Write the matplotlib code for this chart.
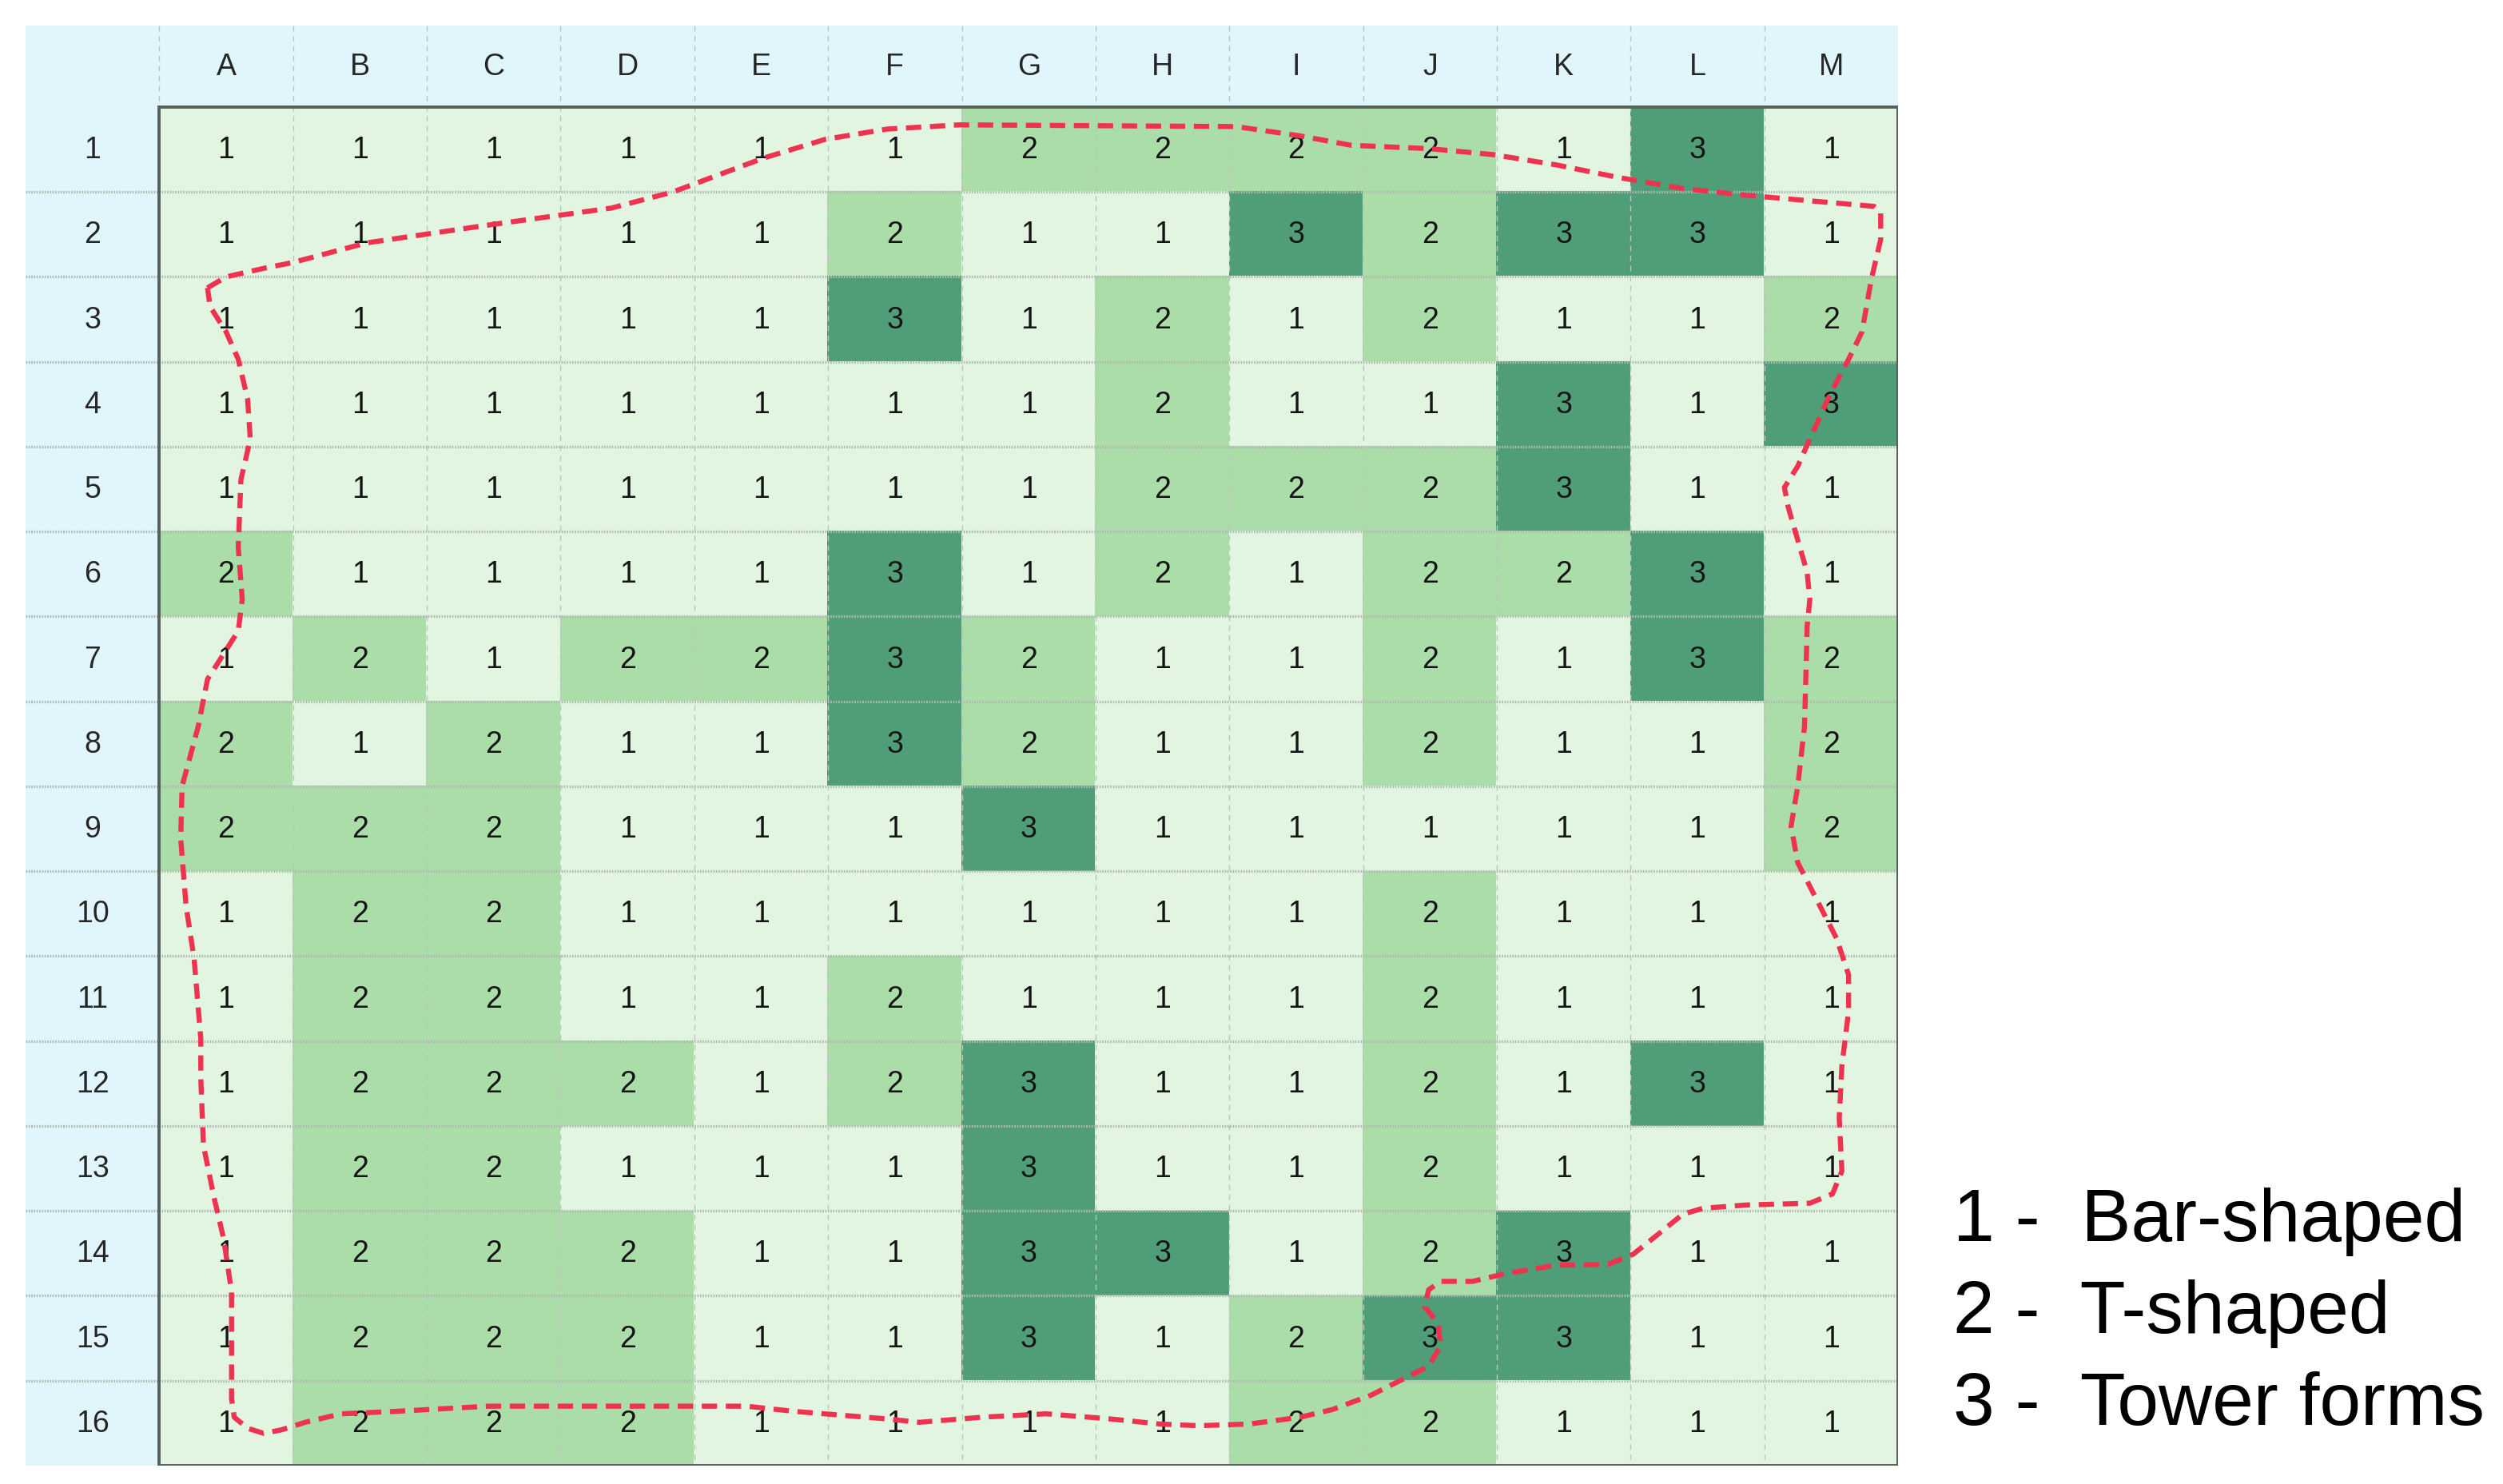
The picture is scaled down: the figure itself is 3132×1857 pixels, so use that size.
import numpy as np
import matplotlib.pyplot as plt
from matplotlib.colors import ListedColormap, BoundaryNorm
from matplotlib.patches import Rectangle

plt.rcParams['font.family'] = ['Liberation Sans Narrow', 'Liberation Sans', 'DejaVu Sans']

col_labels = list('ABCDEFGHIJKLM')
row_labels = [str(i) for i in range(1, 17)]

# form type per cell, rows 1..16, columns A..M
forms = [
    [1, 1, 1, 1, 1, 1, 2, 2, 2, 2, 1, 3, 1],
    [1, 1, 1, 1, 1, 2, 1, 1, 3, 2, 3, 3, 1],
    [1, 1, 1, 1, 1, 3, 1, 2, 1, 2, 1, 1, 2],
    [1, 1, 1, 1, 1, 1, 1, 2, 1, 1, 3, 1, 3],
    [1, 1, 1, 1, 1, 1, 1, 2, 2, 2, 3, 1, 1],
    [2, 1, 1, 1, 1, 3, 1, 2, 1, 2, 2, 3, 1],
    [1, 2, 1, 2, 2, 3, 2, 1, 1, 2, 1, 3, 2],
    [2, 1, 2, 1, 1, 3, 2, 1, 1, 2, 1, 1, 2],
    [2, 2, 2, 1, 1, 1, 3, 1, 1, 1, 1, 1, 2],
    [1, 2, 2, 1, 1, 1, 1, 1, 1, 2, 1, 1, 1],
    [1, 2, 2, 1, 1, 2, 1, 1, 1, 2, 1, 1, 1],
    [1, 2, 2, 2, 1, 2, 3, 1, 1, 2, 1, 3, 1],
    [1, 2, 2, 1, 1, 1, 3, 1, 1, 2, 1, 1, 1],
    [1, 2, 2, 2, 1, 1, 3, 3, 1, 2, 3, 1, 1],
    [1, 2, 2, 2, 1, 1, 3, 1, 2, 3, 3, 1, 1],
    [1, 2, 2, 2, 1, 1, 1, 1, 2, 2, 1, 1, 1],
]

legend_codes = ['1', '2', '3']
legend_names = ['Bar-shaped', 'T-shaped', 'Tower forms']

# hand-drawn outline, in cell units measured from the top-left grid corner
outline_col = [0.36, 0.50, 0.78, 1.00, 1.55, 2.46, 3.38, 3.84, 4.52, 4.98, 5.44, 5.98,
               8.05, 8.53, 8.91, 9.49, 9.97, 10.44, 10.91, 11.39, 11.87, 12.82, 12.87,
               12.87, 12.80, 12.73, 12.63, 12.49, 12.34, 12.25, 12.15, 12.18, 12.25,
               12.32, 12.34, 12.32, 12.31, 12.30, 12.25, 12.20, 12.25, 12.39, 12.54,
               12.63, 12.63, 12.58, 12.56, 12.58, 12.51, 12.34, 11.87, 11.54, 11.39,
               11.21, 11.02, 10.83, 10.44, 10.06, 9.82, 9.58, 9.49, 9.46, 9.56, 9.58,
               9.49, 9.30, 9.06, 8.77, 8.53, 8.15, 7.77, 7.48, 7.11, 6.63, 6.15, 5.68,
               5.44, 4.74, 4.39, 3.38, 2.46, 1.78, 1.36, 1.09, 0.91, 0.78, 0.66, 0.56,
               0.54, 0.54, 0.54, 0.48, 0.41, 0.33, 0.31, 0.31, 0.26, 0.20, 0.16, 0.17,
               0.29, 0.36, 0.59, 0.62, 0.59, 0.61, 0.68, 0.66, 0.59, 0.50, 0.38, 0.36]
outline_row = [2.13, 2.00, 1.90, 1.83, 1.60, 1.39, 1.19, 1.00, 0.60, 0.38, 0.26, 0.21,
               0.23, 0.34, 0.45, 0.49, 0.56, 0.68, 0.83, 0.96, 1.04, 1.17, 1.24,
               1.56, 2.03, 2.65, 2.97, 3.39, 3.91, 4.23, 4.48, 4.72, 5.10,
               5.48, 5.80, 6.12, 6.74, 7.30, 8.00, 8.47, 8.90, 9.33, 9.79,
               10.22, 10.65, 11.29, 11.91, 12.53, 12.80, 12.91, 12.93, 12.97, 13.04,
               13.27, 13.51, 13.63, 13.64, 13.74, 13.83, 13.83, 13.93, 14.13, 14.32, 14.59,
               14.83, 14.98, 15.17, 15.34, 15.43, 15.51, 15.53, 15.51, 15.45, 15.39, 15.43, 15.49,
               15.45, 15.36, 15.30, 15.30, 15.30, 15.36, 15.39, 15.49, 15.58, 15.62, 15.56, 15.43,
               15.21, 14.59, 13.95, 13.32, 12.85, 12.23, 11.44, 10.97, 10.03, 9.41, 8.62, 8.00,
               7.30, 6.74, 6.17, 5.80, 5.18, 4.39, 3.91, 3.44, 2.97, 2.65, 2.35, 2.13]

hdr = '#e1f5fc'
cmap = ListedColormap(['#e1f5e1', '#aadda7', '#4f9e77'])
norm = BoundaryNorm([0.5, 1.5, 2.5, 3.5], cmap.N)

fig = plt.figure(figsize=(31.32, 18.58), dpi=100)
ax = fig.add_axes([0.01022, 0.01238, 0.7481, 0.9699])

grid = np.array(forms)
nr, nc = grid.shape
ax.imshow(grid, cmap=cmap, norm=norm, aspect='auto', interpolation='nearest',
          extent=(-0.5, nc - 0.5, nr - 0.5, -0.5), zorder=0)

htop = -1.46
ax.add_patch(Rectangle((-1.5, htop), nc + 1, -0.5 - htop, color=hdr, lw=0, zorder=0))
ax.add_patch(Rectangle((-1.5, htop), 1, nr - 0.5 - htop, color=hdr, lw=0, zorder=0))

# sheet gridlines
for i in range(1, nr):
    ax.hlines(i - 0.5, -1.5, nc - 0.5, color='#b0bab3', lw=2.4, ls=(0, (0.5, 0.5)), zorder=2)
for j in range(0, nc):
    ax.vlines(j - 0.5, htop, nr - 0.5, color='#bcc5bf', lw=1.0, ls=(0, (5, 4)), zorder=2)
ax.add_patch(Rectangle((-0.5, -0.5), nc, nr, fill=False, ec='#56605b', lw=2.8, zorder=4))

for i in range(nr):
    for j in range(nc):
        ax.text(j, i, str(grid[i, j]), ha='center', va='center', fontsize=27,
                color='#141414', zorder=3)
    ax.text(-1.0, i, row_labels[i], ha='center', va='center', fontsize=27, color='#262626')
for j in range(nc):
    ax.text(j, (htop - 0.5) / 2, col_labels[j], ha='center', va='center', fontsize=27,
            color='#262626')

ax.plot(np.array(outline_col) - 0.5, np.array(outline_row) - 0.5, color='#ee3350',
        lw=4.6, ls=(0, (3.0, 1.7)), solid_capstyle='butt', zorder=5)

ax.set_xlim(-1.5, nc - 0.5)
ax.set_ylim(nr - 0.5, htop)
ax.axis('off')

for k, y in enumerate([0.1642, 0.1023, 0.0404]):
    fig.text(0.7803, y, legend_codes[k] + ' -  ' + legend_names[k], fontsize=67,
             family=['Liberation Sans', 'DejaVu Sans'], va='baseline', ha='left')

fig.savefig('out.png', dpi=100, facecolor='white')
